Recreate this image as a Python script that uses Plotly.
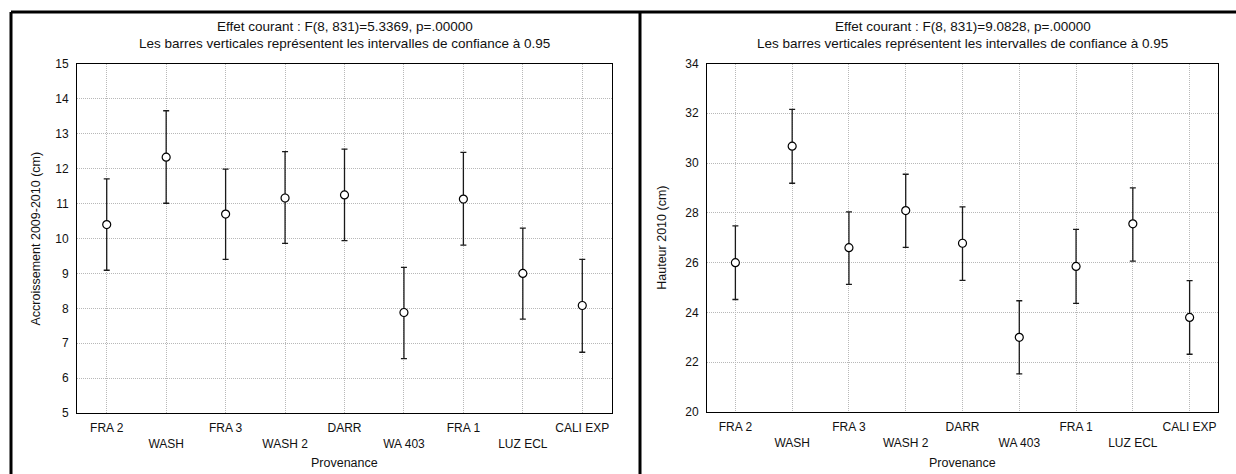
import plotly.graph_objects as go

# Provenances (ordre d'affichage)
provenances = ["FRA 2", "WASH", "FRA 3", "WASH 2", "DARR", "WA 403", "FRA 1", "LUZ ECL", "CALI EXP"]

# Accroissement 2009-2010 (cm) : moyenne et IC 95 %
acc_mean = [10.40, 12.33, 10.70, 11.16, 11.25, 7.88, 11.13, 9.00, 8.08]
acc_low = [9.09, 11.01, 9.40, 9.86, 9.94, 6.56, 9.81, 7.69, 6.74]
acc_high = [11.71, 13.66, 11.99, 12.49, 12.56, 9.17, 12.47, 10.30, 9.40]

# Hauteur 2010 (cm) : moyenne et IC 95 %
hau_mean = [26.00, 30.68, 26.60, 28.09, 26.78, 23.00, 25.85, 27.56, 23.80]
hau_low = [24.52, 29.19, 25.13, 26.61, 25.29, 21.53, 24.36, 26.06, 22.32]
hau_high = [27.48, 32.16, 28.04, 29.55, 28.24, 24.47, 27.34, 29.00, 25.28]

titles = [
    "Effet courant : F(8, 831)=5.3369, p=.00000",
    "Effet courant : F(8, 831)=9.0828, p=.00000",
]
subtitle = "Les barres verticales représentent les intervalles de confiance à 0.95"
y_titles = ["Accroissement 2009-2010 (cm)", "Hauteur 2010 (cm)"]
x_title = "Provenance"

W, H = 1236, 474
FONT = "Liberation Sans, Arial, sans-serif"
TXT = "#111111"


def px_x(x):
    return x / W


def px_y(y):
    return 1 - y / H


# Staggered tick labels: every other one on a second line
tick_text = [p if i % 2 == 0 else "<br>" + p for i, p in enumerate(provenances)]

fig = go.Figure()

panels = [
    dict(mean=acc_mean, low=acc_low, high=acc_high, xa="x", ya="y",
         xdom=(77, 612), ydom=(413, 64), yrange=(5, 15), dtick=1, ytitle_x=35),
    dict(mean=hau_mean, low=hau_low, high=hau_high, xa="x2", ya="y2",
         xdom=(707, 1218), ydom=(412, 63.5), yrange=(20, 34), dtick=2, ytitle_x=662),
]

annotations = []
for k, p in enumerate(panels):
    plus = [h - m for h, m in zip(p["high"], p["mean"])]
    minus = [m - l for m, l in zip(p["mean"], p["low"])]
    fig.add_trace(go.Scatter(
        x=provenances, y=p["mean"], xaxis=p["xa"], yaxis=p["ya"],
        mode="markers",
        marker=dict(symbol="circle", size=8, color="white",
                    line=dict(color="#000000", width=1.2)),
        error_y=dict(type="data", symmetric=False, array=plus, arrayminus=minus,
                     color="#1a1a1a", thickness=1.3, width=3),
        showlegend=False, hoverinfo="skip",
    ))

    suffix = "" if k == 0 else "2"
    grid = dict(showgrid=True, gridcolor="#b8b8b8", griddash="1px,1px", gridwidth=1,
                showline=True, linecolor="#000000", linewidth=1, mirror=True,
                ticks="", zeroline=False,
                tickfont=dict(family=FONT, size=12, color=TXT))
    fig.update_layout(**{
        "xaxis" + suffix: dict(
            grid, domain=[px_x(p["xdom"][0]), px_x(p["xdom"][1])],
            anchor="y" + suffix, type="category", range=[-0.5, 8.5],
            tickmode="array", tickvals=provenances, ticktext=tick_text,
            ticklabelstandoff=4,
        ),
        "yaxis" + suffix: dict(
            grid, domain=[px_y(p["ydom"][0]), px_y(p["ydom"][1])],
            anchor="x" + suffix, range=list(p["yrange"]), dtick=p["dtick"],
            ticklabelstandoff=5,
        ),
    })

    cx = px_x((p["xdom"][0] + p["xdom"][1]) / 2)
    annotations += [
        dict(text=titles[k], x=cx, y=px_y(26.7), xref="paper", yref="paper",
             showarrow=False, xanchor="center", yanchor="middle",
             font=dict(family=FONT, size=13.5, color=TXT)),
        dict(text=subtitle, x=cx, y=px_y(43.5), xref="paper", yref="paper",
             showarrow=False, xanchor="center", yanchor="middle",
             font=dict(family=FONT, size=13.5, color=TXT)),
        dict(text=x_title, x=cx, y=px_y(463), xref="paper", yref="paper",
             showarrow=False, xanchor="center", yanchor="middle",
             font=dict(family=FONT, size=12.5, color=TXT)),
        dict(text=y_titles[k], x=px_x(p["ytitle_x"]),
             y=px_y((p["ydom"][0] + p["ydom"][1]) / 2), xref="paper", yref="paper",
             showarrow=False, xanchor="center", yanchor="middle", textangle=-90,
             font=dict(family=FONT, size=12.5, color=TXT)),
    ]

# Heavy frame around the two panels
frame = dict(type="line", xref="paper", yref="paper",
             line=dict(color="#000000", width=3))
shapes = [
    dict(frame, x0=px_x(11), x1=1.0, y0=px_y(12), y1=px_y(12)),
    dict(frame, x0=px_x(11), x1=px_x(11), y0=px_y(12), y1=0),
    dict(frame, x0=px_x(640), x1=px_x(640), y0=px_y(12), y1=0),
]

fig.update_layout(
    width=W, height=H,
    margin=dict(l=0, r=0, t=0, b=0, autoexpand=False),
    paper_bgcolor="white", plot_bgcolor="white",
    annotations=annotations, shapes=shapes,
    font=dict(family=FONT, size=12, color=TXT),
)

fig.write_html("out.html")
